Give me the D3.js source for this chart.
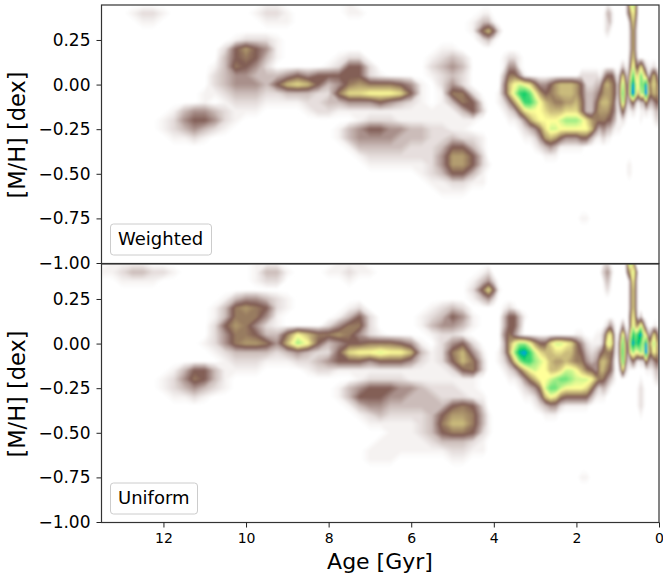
<!DOCTYPE html>
<html>
<head>
  <meta charset="utf-8" />
  <title>Age metallicity maps</title>
  <script src="https://d3js.org/d3.v7.min.js"></script>
  <style>
    html, body { margin: 0; background: #fff; }
    text { font-family: "DejaVu Sans", sans-serif; fill: #000; }
  </style>
</head>
<body>
  <svg id="chart" width="663" height="577"></svg>
  <script>
    // grid of the maps: finer in age towards the young end
    const ages = [].concat(d3.range(13.5, 4.2, -0.25), d3.range(4.125, 1.45, -0.125), d3.range(1.4375, -0.01, -0.0625));
    const metallicities = d3.range(0.45, -1.001, -0.05);

    const ageTicks = [12, 10, 8, 6, 4, 2, 0];
    const mhTicks = [0.25, 0, -0.25, -0.5, -0.75, -1];

    // weights, one string per [M/H] row, base 36, 20 = top of the colour map
    const weighted = [
      "0000000000 0000001100 0000100000 00000000 0000000000 0000000000 00 0001000000 04ac600000 0000",
      "0001221000 0000012210 0000110000 00000001 1000000000 0000000000 00 0013310000 047a600000 0000",
      "0000110000 0000001110 0000000000 00000013 3100000000 0000000000 00 0012310000 0049400000 0000",
      "0000000000 0000000000 0000000000 00000016 8520000000 0000000000 00 0012100000 0038300000 0000",
      "0000000000 0001222100 0000000000 00000002 3100000000 0000000000 00 0000000000 0038300000 0000",
      "0000000000 0025754100 0000000000 00011000 0000000000 0000000000 00 0000000000 0038300000 0000",
      "0000000000 0035653100 0001220000 00123200 0001221000 0000000000 00 0000000000 0049400000 0000",
      "0000000000 0136542000 0012552000 00234300 0001441000 0000000000 00 0000000013 115b559521 1210",
      "0000000000 0234433345 4555552100 00123200 0003664100 0000000022 22 1245553149 429e99da72 5853",
      "0000000000 0234443589 8534676665 41024200 00048aba96 4457888752 23 357876526c 63chbadch6 7975",
      "0000000000 1123332233 322699aaa9 51016620 00148befda 7567888753 34 567776526e 63dib7cbi7 6876",
      "0000000000 1012221111 2233444543 21013651 001247aeec a876677863 35 788876415c 5246313374 3455",
      "0000000134 4321110000 1221111111 11111352 00012369aa a988899963 36 7777654136 3112101121 1233",
      "0000001245 5421000000 0000012221 11111110 0000112479 aaaabcccb9 76 6665543112 1000001000 0122",
      "0000001234 3210000000 0001345544 33221100 0000001234 69bbaaaaaa 84 3443321110 0000000000 0000",
      "0000000112 1000000000 0001344443 33223221 0000000112 4787544455 31 1221100000 0000000000 0000",
      "0000000000 0000000000 0000133333 22235531 0000000001 2343111110 00 0000000000 0000000000 0000",
      "0000000000 0000000000 0000012222 22247752 0000000000 0111000000 00 0000000000 0000000000 0000",
      "0000000000 0000000000 0000001111 11247752 1000000000 0000000000 00 0000000000 0110000000 0000",
      "0000000000 0000000000 0000000000 01235531 0000000000 0000000000 00 0000000000 0110000000 0000",
      "0000000000 0000000000 0000000000 00112211 0000000000 0000000000 00 0000000000 0000000000 0000",
      "0000000000 0000000000 0000000000 00011100 0000000000 0000000000 00 0000000000 0000000000 0000",
      "0000000000 0000000000 0000000000 00000000 0000000000 0000000000 00 0000000000 0000000000 0000",
      "0000000000 0000000000 0000000000 00000000 0000000000 0000000000 00 0000000000 0000000000 0000",
      "0000000000 0000000000 0000000000 00000000 0000000000 0000000011 00 0000000000 0000000000 0000"
    ];

    const uniform = [
      "0111100000 0000011100 0001110000 00000000 0000000000 0000000000 00 0022100000 08d8000000 0000",
      "1123322100 0000013310 0011211000 00000001 2000000000 0000000000 00 0234310000 058b600000 0000",
      "0011110000 0000012200 0000100000 00000013 4200000000 0000000000 00 0023200000 004a400000 0000",
      "0000000000 0000000000 0000000000 00000026 9510000000 0000000000 00 0012100000 0049400000 0000",
      "0000000000 0013443210 0000000000 00000013 4200000000 0000000000 00 0000000000 0049400000 0000",
      "0000000000 0136765210 0000120000 00123200 0001210000 0000000000 00 0000000000 0049400000 0000",
      "0000000000 0136664100 0001352000 01235410 0003553100 0000000000 00 0000000000 005a503000 0000",
      "0000000000 0257642100 0024662000 01344310 0003553000 0000000000 00 0012431014 105b77b620 0110",
      "0000000000 024665336a 8667642100 00122100 0004642000 0000000110 01 1248a7204b 41afcfhb93 4964",
      "0000000000 124677648c a534556665 41024520 00037acca7 559bba9642 11 125ab8216e 63dhdgdbh6 8c86",
      "0000000000 0123333234 32259aabaa 83126841 00137cgheb 9889988653 23 456665216f 63acaacai7 6a86",
      "0000000000 0012221112 2345554555 42125862 001248ceec ba87787664 34 788764105e 5235312274 3455",
      "0000000135 5311110000 1221111111 11112562 00012358ab aa889bba86 54 7876541039 3100000011 1233",
      "0000001246 5310000000 0000012222 11111110 0000112468 aabcddcbbb a7 6654321000 0000001000 0122",
      "0000001234 3210000000 0001345554 43222110 0000001234 6bddbaaaa9 63 2332100000 0000012100 0000",
      "0000000112 1000000000 0001355544 33322211 0000000112 48a9655555 31 1110000000 0000012100 0000",
      "0000000000 0000000000 0000134433 33335652 0000000001 2344211111 00 0000000000 0000012100 0000",
      "0000000000 0000000000 0000012322 22357763 1000000000 0111000000 00 0000000000 0000001000 0000",
      "0000000000 0000000000 0000001111 12368863 1000000000 0000000000 00 0000000000 0000000000 0000",
      "0000000000 0000000000 0000000011 12356652 1000000000 0000000000 00 0000000000 0000000000 0000",
      "0000000000 0000000000 0000000111 11233321 0000000000 0000000000 00 0000000000 0000000000 0000",
      "0000000000 0000000000 0000001111 11112211 0000000000 0000000000 00 0000000000 0000000000 0000",
      "0000000000 0000000000 0000001110 00001100 0000000000 0000000000 00 0000000000 0000000000 0000",
      "0000000000 0000000000 0000000000 00000000 0000000000 0000000000 00 0000000000 0000000000 0000",
      "0000000000 0000000000 0000000000 00000000 0000000000 0000000011 00 0000000000 0000000000 0000"
    ];

    const panels = [
      { label: "Weighted", rows: weighted, top: 5, bottom: 263.5, box: 101 },
      { label: "Uniform", rows: uniform, top: 264, bottom: 522.5, box: 87 }
    ];

    const left = 101.5, right = 659;
    const svg = d3.select("#chart");

    // terrain_r
    const terrain = d3.scaleLinear()
      .domain([0, 0.25, 0.5, 0.75, 0.85, 1])
      .range(["#ffffff", "#805c54", "#ffff99", "#00cc66", "#0099ff", "#333399"]);

    // the haze levels are much paler than a straight reading of the map gives
    const haze = d3.scaleLinear().domain([0, 1, 2, 3, 4, 5, 20]).range([0, 0.45, 1.15, 2.1, 3.4, 5, 20]);

    const x = d3.scaleLinear().domain([13.5, 0]).range([left, right]);

    const defs = svg.append("defs");
    defs.append("filter").attr("id", "soft")
      .attr("x", "-5%").attr("y", "-5%").attr("width", "110%").attr("height", "110%")
      .append("feGaussianBlur").attr("stdDeviation", 1.2);

    const ageAt = d3.scaleLinear().domain(d3.range(ages.length)).range(ages).clamp(true);
    const mhAt = d3.scaleLinear().domain(d3.range(metallicities.length)).range(metallicities).clamp(true);
    const levels = d3.range(0.1, 20, 0.15);

    panels.forEach(function (p, n) {
      const y = d3.scaleLinear().domain([-1, 0.446]).range([p.bottom - 0.5, p.top]);

      // unpack the strings into one flat grid
      const grid = [];
      metallicities.forEach(function (m, r) {
        const row = (p.rows[r] || "").replace(/ /g, "").padEnd(ages.length, "0");
        if (row.length !== ages.length) throw new Error(p.label + " row " + r + " has " + row.length);
        for (const c of row) grid.push(haze(parseInt(c, 36)));
      });

      const contours = d3.contours()
        .size([ages.length, metallicities.length])
        .thresholds(levels)(grid);

      const path = d3.geoPath(d3.geoTransform({
        point: function (px, py) {
          this.stream.point(x(ageAt(px - 0.5)), y(mhAt(py - 0.5)));
        }
      }));

      defs.append("clipPath").attr("id", "clip" + n)
        .append("rect")
        .attr("x", left).attr("y", p.top)
        .attr("width", right - left).attr("height", p.bottom - p.top);

      svg.append("g").attr("clip-path", "url(#clip" + n + ")")
        .append("g").attr("filter", "url(#soft)")
        .selectAll("path")
        .data(contours)
        .enter().append("path")
        .attr("d", path)
        .attr("fill", function (d) { return terrain(d.value / 20); });

      // axes
      const yAxis = svg.append("g").attr("transform", "translate(" + left + ",0)")
        .call(d3.axisLeft(y).tickValues(mhTicks).tickFormat(d3.format(".2f")).tickSize(5).tickPadding(6));
      yAxis.selectAll("text").style("font-size", "17px");
      yAxis.selectAll(".tick line").attr("stroke", "#222");
      yAxis.select(".domain").remove();

      svg.append("rect")
        .attr("x", left).attr("y", p.top)
        .attr("width", right - left).attr("height", p.bottom - p.top)
        .attr("fill", "none").attr("stroke", "#333").attr("stroke-width", 1.2);

      svg.append("text")
        .attr("transform", "translate(25," + ((p.top + p.bottom) / 2 + 0.75) + ") rotate(-90)")
        .attr("text-anchor", "middle")
        .style("font-size", "22.5px")
        .text("[M/H] [dex]");

      // legend box
      svg.append("rect")
        .attr("x", 110.5).attr("y", p.bottom - 39.5)
        .attr("width", p.box).attr("height", 31)
        .attr("rx", 3)
        .attr("fill", "#fff").attr("fill-opacity", 0.8)
        .attr("stroke", "#ccc").attr("stroke-width", 1);
      svg.append("text")
        .attr("x", 118).attr("y", p.bottom - 19)
        .style("font-size", "18px")
        .text(p.label);

      if (n === 1) {
        const xAxis = svg.append("g").attr("transform", "translate(0," + p.bottom + ")")
          .call(d3.axisBottom(x).tickValues(ageTicks).tickFormat(d3.format("d")).tickSize(5).tickPadding(6));
        xAxis.selectAll("text").style("font-size", "14px");
        xAxis.selectAll(".tick line").attr("stroke", "#222");
        xAxis.select(".domain").remove();
      }
    });

    svg.append("text")
      .attr("x", 380).attr("y", 569)
      .attr("text-anchor", "middle")
      .style("font-size", "22px")
      .text("Age [Gyr]");
  </script>
</body>
</html>
